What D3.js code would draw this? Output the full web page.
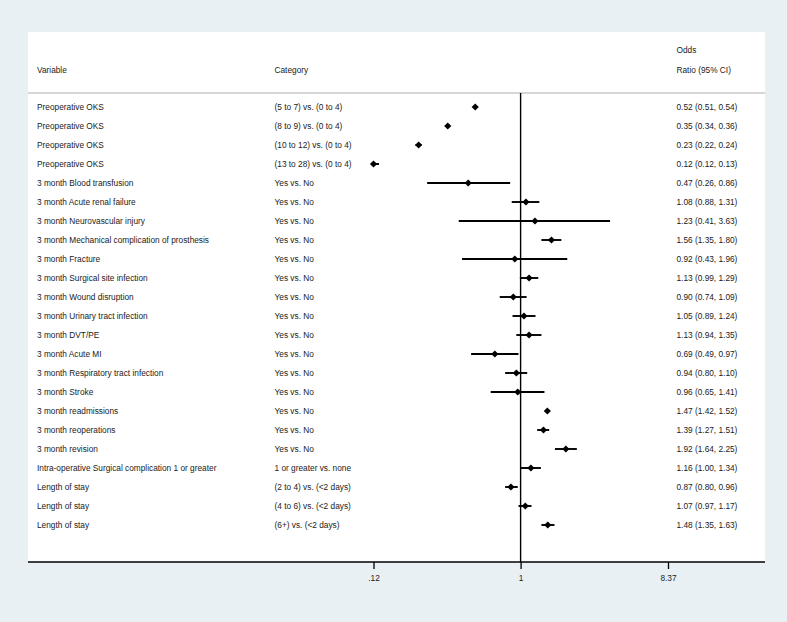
<!DOCTYPE html>
<html>
<head>
<meta charset="utf-8">
<script src="https://cdn.jsdelivr.net/npm/d3@7"></script>
<style>
  html, body { margin: 0; padding: 0; background: #e9f0f3; }
  svg { display: block; }
  text { font-family: "Liberation Sans", Arial, Helvetica, sans-serif; fill: #1a1a1a; }
</style>
</head>
<body>
<svg id="chart" width="787" height="622"></svg>
<script>
const variables = [
  "Preoperative OKS", "Preoperative OKS", "Preoperative OKS", "Preoperative OKS",
  "3 month Blood transfusion", "3 month Acute renal failure", "3 month Neurovascular injury",
  "3 month Mechanical complication of prosthesis", "3 month Fracture",
  "3 month Surgical site infection", "3 month Wound disruption",
  "3 month Urinary tract infection", "3 month DVT/PE", "3 month Acute MI",
  "3 month Respiratory tract infection", "3 month Stroke", "3 month readmissions",
  "3 month reoperations", "3 month revision",
  "Intra-operative Surgical complication 1 or greater",
  "Length of stay", "Length of stay", "Length of stay"
];
const categories = [
  "(5 to 7) vs. (0 to 4)", "(8 to 9) vs. (0 to 4)", "(10 to 12) vs. (0 to 4)", "(13 to 28) vs. (0 to 4)",
  "Yes vs. No", "Yes vs. No", "Yes vs. No", "Yes vs. No", "Yes vs. No", "Yes vs. No",
  "Yes vs. No", "Yes vs. No", "Yes vs. No", "Yes vs. No", "Yes vs. No", "Yes vs. No",
  "Yes vs. No", "Yes vs. No", "Yes vs. No",
  "1 or greater vs. none",
  "(2 to 4) vs. (<2 days)", "(4 to 6) vs. (<2 days)", "(6+) vs. (<2 days)"
];
const oddsRatio = [0.52, 0.35, 0.23, 0.12, 0.47, 1.08, 1.23, 1.56, 0.92, 1.13, 0.90, 1.05, 1.13, 0.69, 0.94, 0.96, 1.47, 1.39, 1.92, 1.16, 0.87, 1.07, 1.48];
const ciLow     = [0.51, 0.34, 0.22, 0.12, 0.26, 0.88, 0.41, 1.35, 0.43, 0.99, 0.74, 0.89, 0.94, 0.49, 0.80, 0.65, 1.42, 1.27, 1.64, 1.00, 0.80, 0.97, 1.35];
const ciHigh    = [0.54, 0.36, 0.24, 0.13, 0.86, 1.31, 3.63, 1.80, 1.96, 1.29, 1.09, 1.24, 1.35, 0.97, 1.10, 1.41, 1.52, 1.51, 2.25, 1.34, 0.96, 1.17, 1.63];
const tickValues = [0.12, 1, 8.37];
const tickLabels = [".12", "1", "8.37"];

const svg = d3.select("#chart");
const panel = { left: 28, right: 765, top: 32, bottom: 562 };
const headerLine = 93;
const fs = 8.3;

// white plot panel
svg.append("rect")
  .attr("x", panel.left).attr("y", panel.top)
  .attr("width", panel.right - panel.left).attr("height", panel.bottom - panel.top)
  .attr("fill", "#ffffff");

const x = d3.scaleLog().domain([0.12, 8.37]).range([373.5, 668]);
const y = d3.scalePoint().domain(d3.range(variables.length)).range([107, 525]);

// header separator
svg.append("line")
  .attr("x1", panel.left).attr("x2", panel.right)
  .attr("y1", headerLine).attr("y2", headerLine)
  .attr("stroke", "#c9c9c9").attr("stroke-width", 1.5);

// headers
const colVar = 37, colCat = 274.5, colOR = 676.5;
svg.append("text").attr("x", colVar).attr("y", 70).attr("dy", "0.35em").attr("font-size", fs).text("Variable");
svg.append("text").attr("x", colCat).attr("y", 70).attr("dy", "0.35em").attr("font-size", fs).text("Category");
svg.append("text").attr("x", colOR).attr("y", 50).attr("dy", "0.35em").attr("font-size", fs).text("Odds");
svg.append("text").attr("x", colOR).attr("y", 70).attr("dy", "0.35em").attr("font-size", fs).text("Ratio (95% CI)");

// null line
svg.append("line")
  .attr("x1", x(1)).attr("x2", x(1))
  .attr("y1", headerLine).attr("y2", panel.bottom)
  .attr("stroke", "#000").attr("stroke-width", 1.4);

const idx = d3.range(variables.length);

// row texts
svg.append("g").selectAll("text").data(idx).join("text")
  .attr("x", colVar).attr("y", i => y(i)).attr("dy", "0.35em").attr("font-size", fs)
  .text(i => variables[i]);
svg.append("g").selectAll("text").data(idx).join("text")
  .attr("x", colCat).attr("y", i => y(i)).attr("dy", "0.35em").attr("font-size", fs)
  .text(i => categories[i]);
svg.append("g").selectAll("text").data(idx).join("text")
  .attr("x", colOR).attr("y", i => y(i)).attr("dy", "0.35em").attr("font-size", fs)
  .text(i => `${oddsRatio[i].toFixed(2)} (${ciLow[i].toFixed(2)}, ${ciHigh[i].toFixed(2)})`);

// CI lines
svg.append("g").selectAll("line").data(idx).join("line")
  .attr("x1", i => x(ciLow[i])).attr("x2", i => x(ciHigh[i]))
  .attr("y1", i => y(i)).attr("y2", i => y(i))
  .attr("stroke", "#000").attr("stroke-width", 1.9);

// diamonds
const diamond = {
  draw(ctx, size) {
    const r = Math.sqrt(size / 2);
    ctx.moveTo(0, -r); ctx.lineTo(r, 0); ctx.lineTo(0, r); ctx.lineTo(-r, 0); ctx.closePath();
  }
};
svg.append("g").selectAll("path").data(idx).join("path")
  .attr("transform", i => `translate(${x(oddsRatio[i])},${y(i)})`)
  .attr("d", d3.symbol().type(diamond).size(26))
  .attr("fill", "#000");

// x axis
const axisG = svg.append("g").attr("transform", `translate(0,${panel.bottom})`);
axisG.append("line")
  .attr("x1", panel.left).attr("x2", panel.right)
  .attr("stroke", "#000").attr("stroke-width", 1.3);
const axis = d3.axisBottom(x).tickValues(tickValues)
  .tickFormat((d, i) => tickLabels[i]).tickSize(7).tickSizeOuter(0).tickPadding(6);
const ag = axisG.append("g").call(axis);
ag.select(".domain").remove();
ag.selectAll(".tick line").attr("stroke", "#000").attr("stroke-width", 1.3);
ag.selectAll(".tick text").attr("font-size", fs).attr("fill", "#1a1a1a")
  .attr("font-family", "Liberation Sans, Arial, sans-serif");
</script>
</body>
</html>
